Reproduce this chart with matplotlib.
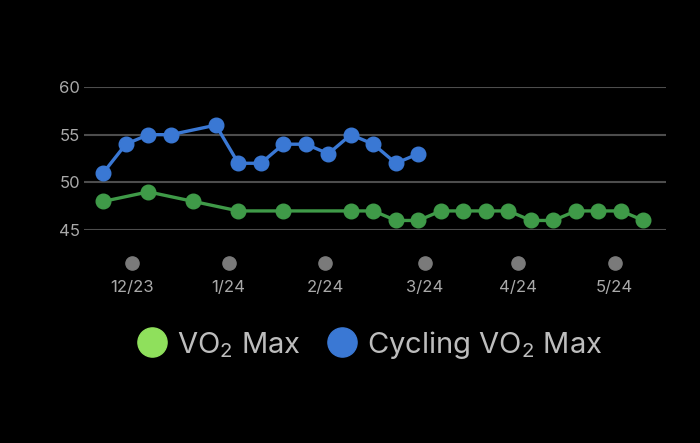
import numpy as np
import pandas as pd
import matplotlib
matplotlib.use('Agg')
import matplotlib.pyplot as plt
from matplotlib.lines import Line2D

plt.rcParams['font.family'] = ['Inter', 'DejaVu Sans']
plt.rcParams['mathtext.fontset'] = 'custom'
plt.rcParams['mathtext.rm'] = 'Inter'
plt.rcParams['mathtext.it'] = 'Inter'
plt.rcParams['mathtext.bf'] = 'Inter'

# ---- data (weekly readings) ----
cycling_dates = ['2023-11-22', '2023-11-29', '2023-12-06', '2023-12-13',
                 '2023-12-27', '2024-01-03', '2024-01-10', '2024-01-17',
                 '2024-01-24', '2024-01-31', '2024-02-07', '2024-02-14',
                 '2024-02-21', '2024-02-28']
cycling_vo2 = [51, 54, 55, 55, 56, 52, 52, 54, 54, 53, 55, 54, 52, 53]

vo2_dates = ['2023-11-22', '2023-12-06', '2023-12-20', '2024-01-03',
             '2024-01-17', '2024-02-07', '2024-02-14', '2024-02-21',
             '2024-02-28', '2024-03-06', '2024-03-13', '2024-03-20',
             '2024-03-27', '2024-04-03', '2024-04-10', '2024-04-17',
             '2024-04-24', '2024-05-01', '2024-05-08']
vo2_max = [48, 49, 48, 47, 47, 47, 47, 46, 46, 47, 47, 47, 47, 46, 46,
           47, 47, 47, 46]

month_ticks = ['2023-12-01', '2023-12-31', '2024-01-30', '2024-03-01',
               '2024-03-30', '2024-04-29']
month_labels = ['12/23', '1/24', '2/24', '3/24', '4/24', '5/24']
y_ticks = [45, 50, 55, 60]

BLUE = '#3a78d4'
GREEN = '#3f9a48'
GREEN_LEGEND = '#8fe05c'
GRID = '#4d4d4d'
LABEL = '#a9a9a9'

cd = pd.to_datetime(cycling_dates)
vd = pd.to_datetime(vo2_dates)
md = pd.to_datetime(month_ticks)

W, H = 700, 443
fig = plt.figure(figsize=(W / 100, H / 100), dpi=100, facecolor='black')
ax = fig.add_axes([84 / W, 1 - 230 / H, (666 - 84) / W, (230 - 87) / H])
ax.set_facecolor('black')

ax.plot(vd, vo2_max, color=GREEN, lw=2.4, marker='o', ms=10.5,
        clip_on=False, zorder=3)
ax.plot(cd, cycling_vo2, color=BLUE, lw=2.4, marker='o', ms=10.5,
        clip_on=False, zorder=4)

ax.set_xlim(pd.Timestamp('2023-11-16'), pd.Timestamp('2024-05-15'))
ax.set_ylim(45, 60)
ax.set_yticks(y_ticks)
ax.yaxis.grid(True, color=GRID, lw=1.5)
ax.set_axisbelow(True)
ax.tick_params(axis='y', length=0, pad=3, labelsize=12, labelcolor=LABEL)

# month markers below the plot
ax.plot(md, [-0.23] * len(md), ls='none', marker='o', ms=9.5,
        color='#7a7a7a', transform=ax.get_xaxis_transform(), clip_on=False)
ax.set_xticks(md)
ax.set_xticklabels(month_labels)
ax.tick_params(axis='x', length=0, pad=36, labelsize=12, labelcolor=LABEL)

for s in ax.spines.values():
    s.set_visible(False)

# legend row
legend_items = [('VO$_2$ Max', GREEN_LEGEND, 151.7, 177),
                ('Cycling VO$_2$ Max', BLUE, 341.7, 367)]
for label, col, cx, tx in legend_items:
    fig.add_artist(Line2D([cx / W], [1 - 342 / H], ls='none', marker='o',
                          ms=21, color=col, transform=fig.transFigure))
    fig.text(tx / W, 1 - 353 / H, label, fontsize=21, color='#bdbdbd',
             ha='left', va='baseline')

fig.savefig('out.png', dpi=100, facecolor='black')
